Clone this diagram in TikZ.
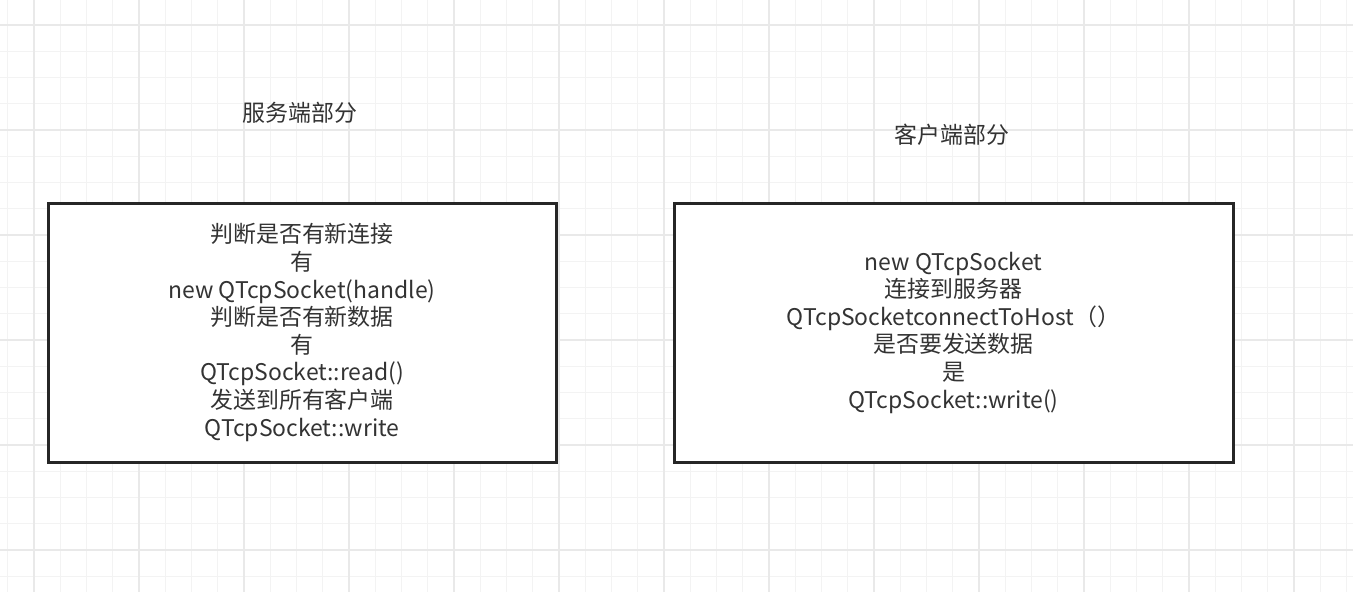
\documentclass[tikz,border=0pt]{standalone}
\usepackage{fontspec}
\setmainfont{Noto Sans CJK SC}
\definecolor{gridminor}{HTML}{F3F3F3}
\definecolor{gridmajor}{HTML}{E9E9E9}
\definecolor{txt}{HTML}{333333}
\definecolor{border}{HTML}{262626}
\tikzset{
  gminor/.style={draw=gridminor,line width=0.75pt},
  gmajor/.style={draw=gridmajor,line width=0.9pt},
  boxnode/.style={draw=border,line width=2.25pt,fill=white,inner sep=0pt,
    align=center,text=txt,font=\fontsize{17.2pt}{20.7pt}\selectfont},
  titlenode/.style={text=txt,inner sep=0pt,font=\fontsize{17.2pt}{20.7pt}\selectfont}
}
\begin{document}
\begin{tikzpicture}[x=0.75pt,y=-0.75pt]
\useasboundingbox (0,0) rectangle (1353,592);
\fill[white] (0,0) rectangle (1353,592);
% grid
\foreach \k in {0,...,51}{
  \pgfmathsetmacro\xx{7.75+26.25*\k}
  \draw[gminor] (\xx,0) -- (\xx,592);
}
\foreach \j in {0,...,21}{
  \pgfmathsetmacro\yy{25+26.25*\j}
  \draw[gminor] (0,\yy) -- (1353,\yy);
}
\foreach \k in {1,5,...,49}{
  \pgfmathsetmacro\xx{7.75+26.25*\k}
  \draw[gmajor] (\xx,0) -- (\xx,592);
}
\foreach \j in {0,4,...,20}{
  \pgfmathsetmacro\yy{25+26.25*\j}
  \draw[gmajor] (0,\yy) -- (1353,\yy);
}
% titles
\node[titlenode] (tserver) at (300,113) {服务端部分};
\node[titlenode] (tclient) at (952,135) {客户端部分};
% boxes
\node[boxnode,minimum width=381pt,minimum height=194.25pt] (server) at (302,332.5)
  {判断是否有新连接\\有\\new QTcpSocket(handle)\\判断是否有新数据\\有\\QTcpSocket::read()\\发送到所有客户端\\QTcpSocket::write};
\node[boxnode,minimum width=419.25pt,minimum height=194.25pt] (client) at (953.5,332.5)
  {new QTcpSocket\\连接到服务器\\QTcpSocketconnectToHost（）\\是否要发送数据\\是\\QTcpSocket::write()};
\end{tikzpicture}
\end{document}
